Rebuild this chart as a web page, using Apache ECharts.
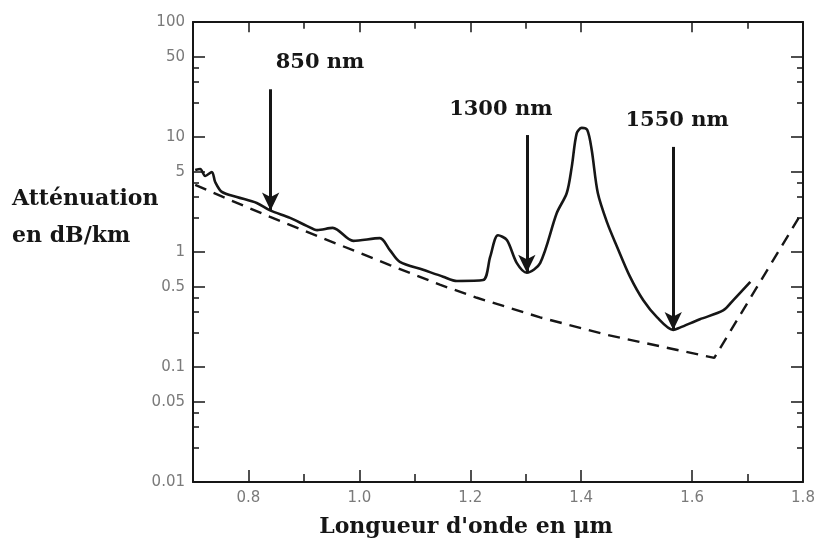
<!DOCTYPE html>
<html>
<head>
<meta charset="utf-8">
<script src="https://cdn.jsdelivr.net/npm/echarts@6/dist/echarts.min.js"></script>
<style>
  html, body { margin: 0; background: #fff; }
  #chart { width: 818px; height: 547px; }
</style>
</head>
<body>
<div id="chart"></div>
<script>
// courbe mesurée : longueur d'onde (µm) / atténuation (dB/km)
const fibreLambda = [0.704, 0.713, 0.722, 0.734, 0.740, 0.752, 0.779, 0.815, 0.839, 0.875, 0.906, 0.924,
  0.952, 0.989, 1.037, 1.055, 1.073, 1.115, 1.151, 1.176, 1.223, 1.236, 1.250, 1.266, 1.284, 1.302,
  1.326, 1.356, 1.374, 1.383, 1.392, 1.401, 1.411, 1.419, 1.430, 1.447, 1.465, 1.488, 1.512, 1.537,
  1.566, 1.578, 1.614, 1.656, 1.674, 1.705];
const fibreAtt = [5.16, 5.27, 4.58, 4.96, 4.06, 3.33, 3.01, 2.67, 2.3, 1.98, 1.68, 1.55,
  1.62, 1.25, 1.32, 1.04, 0.82, 0.70, 0.61, 0.56, 0.57, 0.91, 1.40, 1.27, 0.80, 0.66,
  0.80, 2.18, 3.26, 5.5, 10.8, 12.0, 11.5, 7.7, 3.26, 1.79, 1.10, 0.61, 0.38, 0.27,
  0.21, 0.22, 0.26, 0.31, 0.38, 0.55];

// limite théorique (tirets)
const limitLambda = [0.704, 0.754, 0.839, 0.934, 1.055, 1.145, 1.212, 1.326, 1.447, 1.640, 1.798];
const limitAtt = [3.83, 3.01, 2.02, 1.32, 0.77, 0.52, 0.40, 0.27, 0.19, 0.12, 2.2];

// graduations
const xTickLabels = ['0.8', '1.0', '1.2', '1.4', '1.6', '1.8'];
const xMajorTicks = [0.8, 1.0, 1.2, 1.4, 1.6];
const xMinorTicks = [0.9, 1.1, 1.3, 1.7];
const yTickLabels = ['0.01', '0.05', '0.1', '0.5', '1', '5', '10', '50', '100'];
const yMinorTicks = [0.02, 0.03, 0.04, 0.2, 0.3, 0.4, 2, 3, 4, 20, 30, 40];

// fenêtres de transmission
const windowLabels = ['850 nm', '1300 nm', '1550 nm'];
const windowLambda = [0.84, 1.302, 1.566];
const windowAtt = [2.3, 0.66, 0.21];

// placement des flèches et des textes (haut de flèche, position du texte)
const arrowTop = [26, 10.4, 8.2];
const textAt = [[0.929, 44], [1.255, 17.2], [1.573, 13.8]];

const chart = echarts.init(document.getElementById('chart'));

const ink = '#161616';
const yMin = 0.01, yMax = 100;
const decadePx = 460 / 4; // hauteur d'une décade dans la grille
const logTicks = (arr) => arr.map((v) => Math.log10(parseFloat(v)));
const labelFont = { fontFamily: 'DejaVu Sans', fontSize: 15, color: '#7a7a7a' };
const noLine = { show: false, onZero: false };
const frameLine = { show: true, onZero: false, lineStyle: { color: ink, width: 2 } };

const yLabelAxis = (position, withLabels) => ({
  type: 'value', min: -2, max: 2, position: position,
  axisLine: frameLine,
  splitLine: { show: false },
  axisTick: { show: true, inside: true, length: 12, lineStyle: { color: ink, width: 1.5 },
    customValues: logTicks(yTickLabels) },
  axisLabel: Object.assign({ show: withLabels, margin: 8, customValues: logTicks(yTickLabels),
    formatter: (v) => yTickLabels.find((s) => Math.abs(Math.log10(parseFloat(s)) - v) < 1e-6) || '' }, labelFont)
});
const yMinorAxis = (position) => ({
  type: 'value', min: -2, max: 2, position: position,
  axisLine: noLine,
  splitLine: { show: false },
  axisLabel: { show: false },
  axisTick: { show: true, inside: true, length: 6, lineStyle: { color: ink, width: 1.5 },
    customValues: logTicks(yMinorTicks) }
});
const xFrameAxis = (position, withLabels) => ({
  type: 'value', min: 0.7, max: 1.8, position: position,
  axisLine: frameLine,
  splitLine: { show: false },
  axisTick: { show: false },
  axisLabel: Object.assign({ show: withLabels, margin: 9, customValues: xTickLabels.map(Number),
    formatter: (v) => v.toFixed(1) }, labelFont)
});

// graduations horizontales (bas et haut du cadre), longueur en pixels convertie sur l'axe log
const tickSpan = (px) => Math.pow(10, px / decadePx);
const edgeTicks = (values, px) => values.flatMap((x) => [
  [{ coord: [x, yMin] }, { coord: [x, yMin * tickSpan(px)] }],
  [{ coord: [x, yMax] }, { coord: [x, yMax / tickSpan(px * 0.85)] }]
]);

const option = {
  animation: false,
  backgroundColor: '#fff',
  grid: { left: 193, top: 22, width: 610, height: 460, show: false, outerBoundsMode: 'none' },
  xAxis: [
    xFrameAxis('bottom', true),
    xFrameAxis('top', false)
  ],
  yAxis: [
    // axe logarithmique porteur des données
    { type: 'log', logBase: 10, min: yMin, max: yMax, position: 'left',
      axisLine: noLine, axisTick: { show: false }, axisLabel: { show: false }, splitLine: { show: false } },
    yLabelAxis('left', true),
    yMinorAxis('left'),
    yLabelAxis('right', false),
    yMinorAxis('right')
  ],
  graphic: [
    { type: 'text', left: 12, top: 181,
      style: { text: 'Atténuation\nen dB/km', fontFamily: 'DejaVu Serif', fontWeight: 'bold',
        fontSize: 22, lineHeight: 37, fill: ink } },
    { type: 'text', x: 466, y: 527,
      style: { text: 'Longueur d\'onde en μm', fontFamily: 'DejaVu Serif', fontWeight: 'bold',
        fontSize: 22, fill: ink, align: 'center', verticalAlign: 'middle' } }
  ],
  series: [
    {
      name: 'mesure', type: 'line', xAxisIndex: 0, yAxisIndex: 0,
      data: fibreLambda.map((x, i) => [x, fibreAtt[i]]),
      smooth: 0.3, showSymbol: false, silent: true,
      lineStyle: { color: ink, width: 2.6 },
      markLine: {
        silent: true, symbol: ['none', 'arrow'], symbolSize: [13, 18],
        label: { show: false },
        lineStyle: { color: ink, width: 3, type: 'solid' },
        data: windowLambda.map((x, i) => [{ coord: [x, arrowTop[i]] }, { coord: [x, windowAtt[i]] }])
      },
      markPoint: {
        silent: true, symbol: 'rect', symbolSize: 1,
        itemStyle: { color: 'rgba(0,0,0,0)' },
        label: { show: true, position: 'inside', formatter: '{b}', fontFamily: 'DejaVu Serif',
          fontWeight: 'bold', fontSize: 21, color: ink },
        data: windowLabels.map((t, i) => ({ name: t, coord: textAt[i] }))
      }
    },
    {
      name: 'limite', type: 'line', xAxisIndex: 0, yAxisIndex: 0,
      data: limitLambda.map((x, i) => [x, limitAtt[i]]),
      showSymbol: false, silent: true,
      lineStyle: { color: ink, width: 2.4, type: [12, 8] },
      markLine: {
        silent: true, symbol: ['none', 'none'],
        label: { show: false },
        lineStyle: { color: ink, width: 1.5, type: 'solid' },
        data: edgeTicks(xMajorTicks, 12).concat(edgeTicks(xMinorTicks, 8))
      }
    }
  ]
};

chart.setOption(option);
</script>
</body>
</html>
